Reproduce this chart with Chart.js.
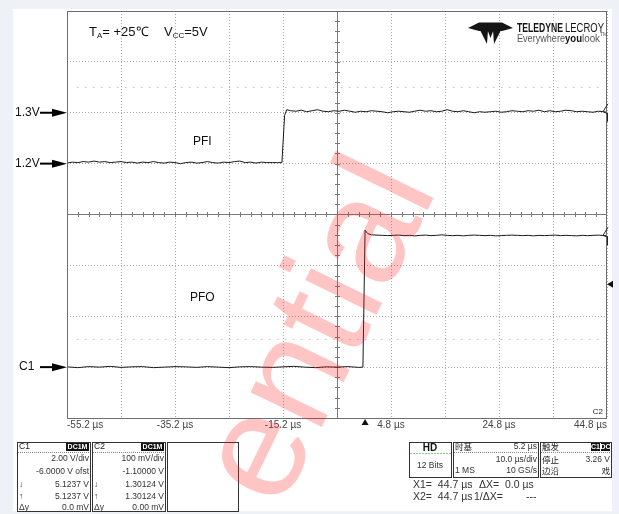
<!DOCTYPE html>
<html>
<head>
<meta charset="utf-8">
<title>PFI / PFO</title>
<script src="https://cdn.jsdelivr.net/npm/chart.js@4.4.1/dist/chart.umd.min.js"></script>
<style>
  html, body { margin: 0; padding: 0; background: #eef2f7; overflow: hidden; }
  canvas { display: block; }
</style>
</head>
<body>
<canvas id="scope" width="619" height="514"></canvas>
<script>
/* ========== Data ========== */
// time axis, µs (10 µs/div, 5.2 µs delay)
const timeTicks = [-55.2, -45.2, -35.2, -25.2, -15.2, -5.2, 4.8, 14.8, 24.8, 34.8, 44.8];
const timeLabels = ["-55.2 µs", "", "-35.2 µs", "", "-15.2 µs", "", "4.8 µs", "", "24.8 µs", "", "44.8 µs"];

// C2 (PFI) vertical divisions, V (100 mV/div, offset -1.1 V)
const c2Ticks = [0.7, 0.8, 0.9, 1.0, 1.1, 1.2, 1.3, 1.4, 1.5];
// C1 (PFO) range, V (2 V/div, offset -6 V)
const c1Range = [-2, 14];

// PFI trace (C2)
const pfiTime = [
  -55.2, -54.2, -53.2, -52.2, -51.2, -50.2, -49.2, -48.2, -47.2, -46.2,
  -45.2, -44.2, -43.2, -42.2, -41.2, -40.2, -39.2, -38.2, -37.2, -36.2,
  -35.2, -34.2, -33.2, -32.2, -31.2, -30.2, -29.2, -28.2, -27.2, -26.2,
  -25.2, -24.2, -23.2, -22.2, -21.2, -20.2, -19.2, -18.2, -17.2, -16.2,
  -15.4, -14.9, -14.5,
  -13.8, -12.8, -11.8, -10.8, -9.8, -8.8, -7.8, -6.8, -5.8, -4.8,
  -3.8, -2.8, -1.8, -0.8, 0.2, 1.2, 2.2, 3.2, 4.2, 5.2,
  6.2, 7.2, 8.2, 9.2, 10.2, 11.2, 12.2, 13.2, 14.2, 15.2,
  16.2, 17.2, 18.2, 19.2, 20.2, 21.2, 22.2, 23.2, 24.2, 25.2,
  26.2, 27.2, 28.2, 29.2, 30.2, 31.2, 32.2, 33.2, 34.2, 35.2,
  36.2, 37.2, 38.2, 39.2, 40.2, 41.2, 42.2, 43.2, 44.2, 44.8
];
const pfiVolts = [
  1.201, 1.203, 1.202, 1.204, 1.203, 1.205, 1.203, 1.204, 1.202, 1.203,
  1.204, 1.202, 1.203, 1.201, 1.203, 1.202, 1.204, 1.202, 1.201, 1.203,
  1.202, 1.200, 1.202, 1.203, 1.201, 1.202, 1.204, 1.202, 1.201, 1.203,
  1.202, 1.204, 1.205, 1.202, 1.203, 1.201, 1.203, 1.202, 1.202, 1.202,
  1.202, 1.295, 1.306,
  1.304, 1.303, 1.305, 1.302, 1.304, 1.306, 1.303, 1.302, 1.304, 1.303,
  1.305, 1.303, 1.301, 1.303, 1.302, 1.304, 1.303, 1.302, 1.300, 1.302,
  1.303, 1.302, 1.301, 1.303, 1.305, 1.303, 1.304, 1.302, 1.303, 1.306,
  1.303, 1.302, 1.304, 1.302, 1.300, 1.302, 1.301, 1.302, 1.303, 1.301,
  1.302, 1.304, 1.303, 1.302, 1.304, 1.303, 1.305, 1.302, 1.304, 1.302,
  1.303, 1.305, 1.304, 1.302, 1.303, 1.302, 1.301, 1.303, 1.302, 1.301
];

// PFO trace (C1)
const pfoTime = [
  -55.2, -53.2, -51.2, -49.2, -47.2, -45.2, -43.2, -41.2, -39.2, -37.2,
  -35.2, -33.2, -31.2, -29.2, -27.2, -25.2, -23.2, -21.2, -19.2, -17.2,
  -15.2, -13.2, -11.2, -9.2, -7.2, -5.2, -3.2, -1.2, -0.4,
  0.0, 0.5, 1.2,
  2.2, 3.2, 4.2, 5.2, 6.2, 7.2, 8.2, 9.2, 10.2, 11.2,
  12.2, 13.2, 14.2, 15.2, 16.2, 17.2, 18.2, 19.2, 20.2, 21.2,
  22.2, 23.2, 24.2, 25.2, 26.2, 27.2, 28.2, 29.2, 30.2, 31.2,
  32.2, 33.2, 34.2, 35.2, 36.2, 37.2, 38.2, 39.2, 40.2, 41.2,
  42.2, 43.2, 44.2, 44.8
];
const pfoVolts = [
  0.01, -0.02, 0.02, 0.00, 0.03, -0.01, 0.01, 0.02, -0.02, 0.00,
  0.02, 0.01, -0.01, 0.02, 0.00, -0.02, 0.01, 0.02, 0.00, -0.01,
  0.01, 0.03, 0.00, -0.02, 0.01, 0.00, 0.02, -0.01, 0.00,
  5.38, 5.25, 5.20,
  5.19, 5.18, 5.17, 5.18, 5.19, 5.17, 5.18, 5.16, 5.18, 5.19,
  5.17, 5.18, 5.20, 5.18, 5.17, 5.18, 5.16, 5.18, 5.19, 5.18,
  5.17, 5.18, 5.16, 5.17, 5.18, 5.19, 5.18, 5.17, 5.18, 5.16,
  5.18, 5.17, 5.18, 5.19, 5.17, 5.18, 5.17, 5.16, 5.18, 5.17,
  5.18, 5.19, 5.17, 5.17
];

// marker levels
const c2Markers = [{ v: 1.3, label: "1.3V" }, { v: 1.2, label: "1.2V" }];
const c1Marker = { v: 0, label: "C1" };
const triggerLevel = 3.26;   // C1, V
const triggerTime = 0;       // µs
const centerTime = -5.2;
const centerC2 = 1.1;

const FONT = '"Liberation Sans", Arial, sans-serif';
const CJK = '"Noto Sans CJK SC", "Liberation Sans", sans-serif';

/* ========== helpers ========== */
function text(ctx, s, x, y, align, font, color) {
  ctx.font = font;
  ctx.fillStyle = color || "#222";
  ctx.textAlign = align || "left";
  ctx.textBaseline = "middle";
  ctx.fillText(s, x, y);
}

function arrow(ctx, x0, x1, y) {
  ctx.strokeStyle = "#000";
  ctx.lineWidth = 2;
  ctx.beginPath();
  ctx.moveTo(x0, y);
  ctx.lineTo(x1 - 12, y);
  ctx.stroke();
  ctx.fillStyle = "#000";
  ctx.beginPath();
  ctx.moveTo(x1, y);
  ctx.lineTo(x1 - 15, y - 4);
  ctx.lineTo(x1 - 15, y + 4);
  ctx.closePath();
  ctx.fill();
}

function box(ctx, x, y, w, h) {
  ctx.strokeStyle = "#333";
  ctx.lineWidth = 1;
  ctx.strokeRect(x + 0.5, y + 0.5, w, h);
}

function badge(ctx, x, y, w, h, s) {
  ctx.fillStyle = "#111";
  ctx.fillRect(x, y, w, h);
  text(ctx, s, x + w / 2, y + h / 2 + 0.5, "center", "bold 7px " + FONT, "#fff");
}

function dashLine(ctx, x0, x1, y, color, dash) {
  ctx.save();
  ctx.strokeStyle = color;
  ctx.lineWidth = 1;
  ctx.setLineDash(dash);
  ctx.beginPath();
  ctx.moveTo(x0, Math.round(y) + 0.5);
  ctx.lineTo(x1, Math.round(y) + 0.5);
  ctx.stroke();
  ctx.restore();
}

/* ========== background + screen decorations ========== */
const scopeDecor = {
  id: "scopeDecor",
  beforeDraw(chart) {
    const ctx = chart.ctx;
    ctx.save();
    ctx.fillStyle = "#eef2f7";
    ctx.fillRect(0, 0, chart.width, chart.height);
    ctx.fillStyle = "#fff";
    ctx.fillRect(13, 9, 599, 502);
    ctx.restore();
  },
  beforeDatasetsDraw(chart) {
    const ctx = chart.ctx;
    const a = chart.chartArea;
    const x = chart.scales.x, y2 = chart.scales.yC2, y1 = chart.scales.yC1;
    ctx.save();
    // sparse dotted rows
    dashLine(ctx, a.left + 10, a.right - 4, y2.getPixelForValue(1.35), "#c4c4c4", [1.5, 6.5]);
    dashLine(ctx, a.left + 10, a.right - 4, y1.getPixelForValue(1.1), "#c4c4c4", [1.5, 6.5]);
    // centre cross with minor ticks
    const cx = Math.round(x.getPixelForValue(centerTime)) + 0.5;
    const cy = Math.round(y2.getPixelForValue(centerC2)) + 0.5;
    ctx.strokeStyle = "#7a7a7a";
    ctx.lineWidth = 1;
    ctx.beginPath();
    ctx.moveTo(a.left, cy); ctx.lineTo(a.right, cy);
    ctx.moveTo(cx, a.top); ctx.lineTo(cx, a.bottom);
    for (let t = timeTicks[0]; t < timeTicks[timeTicks.length - 1]; t += 2) {
      const px = Math.round(x.getPixelForValue(t)) + 0.5;
      ctx.moveTo(px, cy - 2.5); ctx.lineTo(px, cy + 2.5);
    }
    for (let v = c2Ticks[0]; v < c2Ticks[c2Ticks.length - 1]; v += 0.02) {
      const py = Math.round(y2.getPixelForValue(v)) + 0.5;
      ctx.moveTo(cx - 2.5, py); ctx.lineTo(cx + 2.5, py);
    }
    ctx.stroke();
    ctx.restore();
  },
  afterDraw(chart) {
    const ctx = chart.ctx;
    const a = chart.chartArea;
    const x = chart.scales.x, y2 = chart.scales.yC2, y1 = chart.scales.yC1;
    ctx.save();

    // frame
    ctx.strokeStyle = "#6e6e6e";
    ctx.lineWidth = 1;
    ctx.strokeRect(a.left + 0.5, a.top + 0.5, a.right - a.left - 1, a.bottom - a.top);

    // left markers
    c2Markers.forEach(m => {
      const py = y2.getPixelForValue(m.v);
      text(ctx, m.label, 15, py, "left", "12px " + FONT, "#111");
      arrow(ctx, 40, a.left, py);
    });
    const c1y = y1.getPixelForValue(c1Marker.v);
    text(ctx, c1Marker.label, 19, c1y, "left", "12px " + FONT, "#111");
    arrow(ctx, 40, a.left, c1y);

    // title with subscripts
    ctx.textBaseline = "alphabetic";
    ctx.textAlign = "left";
    ctx.fillStyle = "#111";
    let tx = 89;
    const base = 36;
    ctx.font = "13px " + FONT; ctx.fillText("T", tx, base); tx += ctx.measureText("T").width;
    ctx.font = "8px " + FONT; ctx.fillText("A", tx, base + 2); tx += ctx.measureText("A").width;
    ctx.font = "13px " + FONT; ctx.fillText("= +25\u2103", tx, base);
    tx = 164;
    ctx.fillText("V", tx, base); tx += ctx.measureText("V").width;
    ctx.font = "8px " + FONT; ctx.fillText("CC", tx, base + 2); tx += ctx.measureText("CC").width;
    ctx.font = "13px " + FONT; ctx.fillText("=5V", tx, base);

    // trace names
    text(ctx, "PFI", 193, 142, "left", "12px " + FONT, "#111");
    text(ctx, "PFO", 190, 298, "left", "12px " + FONT, "#111");
    text(ctx, "C2", 603, 412, "right", "8px " + FONT, "#222");

    // trace end markers
    [y2.getPixelForValue(1.302), y1.getPixelForValue(5.18)].forEach(py => {
      ctx.strokeStyle = "#222";
      ctx.lineWidth = 1;
      ctx.beginPath();
      ctx.moveTo(608, py - 8); ctx.lineTo(603, py); ctx.lineTo(608, py + 2);
      ctx.moveTo(607.5, py + 1); ctx.lineTo(607.5, py + 10);
      ctx.stroke();
    });

    // trigger level (right) and trigger time (bottom)
    const ty = y1.getPixelForValue(triggerLevel);
    ctx.fillStyle = "#111";
    ctx.beginPath();
    ctx.moveTo(607, ty); ctx.lineTo(613, ty - 3.5); ctx.lineTo(613, ty + 3.5); ctx.closePath(); ctx.fill();
    const tpx = x.getPixelForValue(triggerTime);
    ctx.beginPath();
    ctx.moveTo(tpx, 419); ctx.lineTo(tpx - 3.5, 425); ctx.lineTo(tpx + 3.5, 425); ctx.closePath(); ctx.fill();

    // Teledyne LeCroy logo
    ctx.fillStyle = "#151515";
    ctx.beginPath();
    ctx.moveTo(468, 28); ctx.lineTo(479, 22.5); ctx.lineTo(502, 22.5); ctx.lineTo(513, 28);
    ctx.lineTo(502, 31); ctx.lineTo(479, 31); ctx.closePath(); ctx.fill();
    ctx.beginPath();
    ctx.moveTo(480, 30); ctx.lineTo(488, 30); ctx.lineTo(487, 44); ctx.closePath(); ctx.fill();
    ctx.beginPath();
    ctx.moveTo(493, 30); ctx.lineTo(501, 30); ctx.lineTo(494, 44); ctx.closePath(); ctx.fill();
    ctx.beginPath();
    ctx.moveTo(487.5, 30); ctx.lineTo(493.5, 30); ctx.lineTo(490.5, 38); ctx.closePath(); ctx.fill();
    ctx.textBaseline = "alphabetic";
    ctx.textAlign = "left";
    ctx.font = "bold 12px " + FONT;
    ctx.fillText("TELEDYNE", 517, 32, 46);
    ctx.font = "12px " + FONT;
    ctx.fillText("LECROY", 565, 32, 39);
    ctx.font = "10.5px " + FONT;
    ctx.fillStyle = "#555";
    ctx.fillText("Everywhere", 517, 42, 48);
    ctx.font = "bold 10.5px " + FONT;
    ctx.fillStyle = "#111";
    ctx.fillText("you", 565, 42, 17);
    ctx.font = "10.5px " + FONT;
    ctx.fillStyle = "#555";
    ctx.fillText("look", 582, 42, 18);
    ctx.font = "5px " + FONT;
    ctx.fillText("TM", 600, 36);

    // channel boxes
    const rowsY = [459, 472, 485, 497, 508];
    const chans = [
      { x: 17, name: "C1", rows: ["2.00 V/div", "-6.0000 V ofst", "5.1237 V", "5.1237 V", "0.0 mV"] },
      { x: 92, name: "C2", rows: ["100 mV/div", "-1.10000 V", "1.30124 V", "1.30124 V", "0.00 mV"] }
    ];
    const sm = "8.5px " + FONT;
    chans.forEach(c => {
      box(ctx, c.x, 442, 73, 69);
      text(ctx, c.name, c.x + 2, 447, "left", sm, "#222");
      badge(ctx, c.x + 49, 443, 23, 8, "DC1M");
      dashLine(ctx, c.x + 1, c.x + 73, 452, "#888", [1, 1]);
      c.rows.forEach((r, i) => text(ctx, r, c.x + 72, rowsY[i], "right", sm, "#333"));
      text(ctx, "\u2193", c.x + 2, rowsY[2], "left", sm, "#333");
      text(ctx, "\u2191", c.x + 2, rowsY[3], "left", sm, "#333");
      text(ctx, "\u0394y", c.x + 2, rowsY[4], "left", sm, "#333");
    });
    box(ctx, 167, 442, 71, 69);

    // acquisition boxes
    box(ctx, 409, 442, 42, 35);
    text(ctx, "HD", 430, 448, "center", "bold 10px " + FONT, "#111");
    dashLine(ctx, 410, 451, 453, "#8fd08f", [2, 1]);
    text(ctx, "12 Bits", 430, 466, "center", sm, "#333");

    box(ctx, 453, 442, 85, 35);
    text(ctx, "时基", 455, 447, "left", "8.5px " + CJK, "#222");
    text(ctx, "5.2 µs", 537, 447, "right", sm, "#333");
    dashLine(ctx, 454, 538, 452, "#888", [1, 1]);
    text(ctx, "10.0 µs/div", 537, 460, "right", sm, "#333");
    text(ctx, "1 MS", 455, 471, "left", sm, "#333");
    text(ctx, "10 GS/s", 537, 471, "right", sm, "#333");

    box(ctx, 540, 442, 71, 35);
    text(ctx, "触发", 542, 447, "left", "8.5px " + CJK, "#222");
    badge(ctx, 591, 443, 9, 8, "C1");
    badge(ctx, 601, 443, 9, 8, "DC");
    dashLine(ctx, 541, 611, 452, "#888", [1, 1]);
    text(ctx, "停止", 542, 460, "left", "8.5px " + CJK, "#222");
    text(ctx, "3.26 V", 610, 460, "right", sm, "#333");
    text(ctx, "边沿", 542, 471, "left", "8.5px " + CJK, "#222");
    text(ctx, "戏", 610, 471, "right", "8.5px " + CJK, "#222");

    // cursor readout
    const cf = "10.5px " + FONT;
    text(ctx, "X1=  44.7 µs", 413, 485, "left", cf, "#333");
    text(ctx, "\u0394X=  0.0 µs", 479, 485, "left", cf, "#333");
    text(ctx, "X2=  44.7 µs", 413, 497, "left", cf, "#333");
    text(ctx, "1/\u0394X=", 474, 497, "left", cf, "#333");
    text(ctx, "---", 526, 497, "left", cf, "#333");

    // watermark
    ctx.translate(322, 332);
    ctx.rotate(-64 * Math.PI / 180);
    ctx.font = "150px " + FONT;
    ctx.fillStyle = "rgba(255, 30, 30, 0.26)";
    ctx.textAlign = "center";
    ctx.textBaseline = "middle";
    ctx.fillText("ential", 0, 0);

    ctx.restore();
  }
};

/* ========== Chart ========== */
const ctx = document.getElementById("scope").getContext("2d");
new Chart(ctx, {
  type: "line",
  data: {
    datasets: [
      {
        label: "PFI",
        data: pfiTime.map((t, i) => ({ x: t, y: pfiVolts[i] })),
        yAxisID: "yC2",
        borderColor: "#1a1a1a",
        borderWidth: 1,
        pointRadius: 0,
        tension: 0
      },
      {
        label: "PFO",
        data: pfoTime.map((t, i) => ({ x: t, y: pfoVolts[i] })),
        yAxisID: "yC1",
        borderColor: "#1a1a1a",
        borderWidth: 1,
        pointRadius: 0,
        tension: 0
      }
    ]
  },
  options: {
    responsive: false,
    devicePixelRatio: 1,
    animation: false,
    layout: { padding: { left: 67, top: 11, right: 12, bottom: 82 } },
    plugins: { legend: { display: false }, tooltip: { enabled: false } },
    scales: {
      x: {
        type: "linear",
        min: timeTicks[0],
        max: timeTicks[timeTicks.length - 1],
        afterBuildTicks: s => { s.ticks = timeTicks.map(v => ({ value: v })); },
        afterFit: s => { s.height = 14; },
        ticks: {
          autoSkip: false,
          maxRotation: 0,
          align: "inner",
          padding: 1,
          color: "#444",
          font: { family: FONT, size: 10 },
          callback: (v, i) => timeLabels[i]
        },
        grid: { color: "#a9a9a9", lineWidth: 1, drawTicks: false },
        border: { display: false, dash: [1, 2] }
      },
      yC2: {
        type: "linear",
        position: "left",
        min: c2Ticks[0],
        max: c2Ticks[c2Ticks.length - 1],
        afterBuildTicks: s => { s.ticks = c2Ticks.map(v => ({ value: v })); },
        afterFit: s => { s.width = 0; },
        ticks: { display: false },
        grid: { color: "#a9a9a9", lineWidth: 1, drawTicks: false },
        border: { display: false, dash: [1, 2] }
      },
      yC1: {
        type: "linear",
        position: "right",
        min: c1Range[0],
        max: c1Range[1],
        display: false
      }
    }
  },
  plugins: [scopeDecor]
});
</script>
</body>
</html>
